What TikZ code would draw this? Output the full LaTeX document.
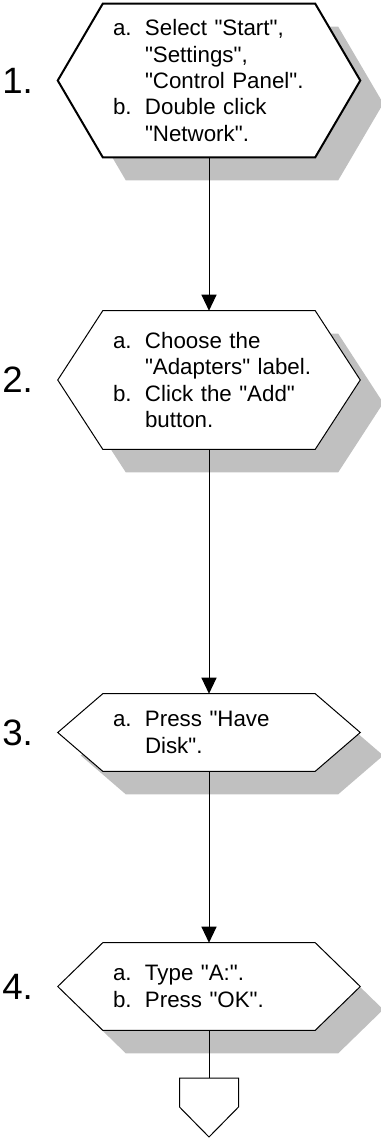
\documentclass[tikz,border=0pt]{standalone}
\usepackage{fontspec}
\newfontfamily\stepfont{Liberation Sans}
\usetikzlibrary{arrows.meta,backgrounds,shadows}
\definecolor{shadowgray}{RGB}{192,192,192}
\newcommand{\itm}[2]{\makebox[24pt][l]{#1}\mbox{#2}}
\newcommand{\hexpath}[1]{(#1.north west) -- (#1.north east) -- ([xshift=33.75pt]#1.east) -- (#1.south east) -- (#1.south west) -- ([xshift=-33.75pt]#1.west) -- cycle}
\tikzset{
  stepbox/.style={rectangle,minimum width=159pt,text width=144pt,inner xsep=7.5pt,inner ysep=0pt,align=left,font=\stepfont\fontsize{16.75}{19.75}\selectfont},
  hexline/.style={draw=black,fill=white,line width=0.75pt,drop shadow={shadow xshift=17.25pt,shadow yshift=-17.25pt,fill=shadowgray,opacity=1}},
  steplabel/.style={anchor=west,inner sep=0pt,font=\stepfont\fontsize{27.5}{30}\selectfont},
  flow/.style={line width=0.75pt,-{Triangle[length=12pt,width=11.25pt]}}
}
\begin{document}
\begin{tikzpicture}[x=0.75pt,y=-0.75pt]
\useasboundingbox (0,0) rectangle (380,1138);
% steps
\node[stepbox,minimum height=114.75pt] (s1) at (209,80.5) {\itm{a.}{Select "Start",}\\\itm{}{"Settings",}\\\itm{}{"Control Panel".}\\\itm{b.}{Double click}\\\itm{}{"Network".}};
\node[stepbox,minimum height=103.5pt] (s2) at (209,380) {\itm{a.}{Choose the}\\\itm{}{"Adapters" label.}\\\itm{b.}{Click the "Add"}\\\itm{}{button.}};
\node[stepbox,minimum height=57.75pt] (s3) at (209,732.5) {\itm{a.}{Press "Have}\\\itm{}{Disk".}};
\node[stepbox,minimum height=65.25pt] (s4) at (209,986.5) {\itm{a.}{Type "A:".}\\\itm{b.}{Press "OK".}};
% numbers
\node[steplabel] (n1) at (2,80.5) {1.};
\node[steplabel] (n2) at (2,380) {2.};
\node[steplabel] (n3) at (2,732.5) {3.};
\node[steplabel] (n4) at (2,986.5) {4.};
% hexagons with shadows
\begin{scope}[on background layer]
\draw[hexline,line width=1.5pt] \hexpath{s1};
\draw[hexline] \hexpath{s2};
\draw[hexline] \hexpath{s3};
\draw[hexline] \hexpath{s4};
\end{scope}
% flow
\draw[flow] (s1.south)--(s2.north);
\draw[flow] (s2.south)--(s3.north);
\draw[flow] (s3.south)--(s4.north);
% off-page connector
\coordinate (off) at (209,1078);
\draw[line width=0.75pt] (s4.south)--(off);
\draw[line width=0.75pt] (off) -- ++(-29.5,0) -- ++(0,29) -- ++(29.5,30) -- ++(29.5,-30) -- ++(0,-29) -- cycle;
\end{tikzpicture}
\end{document}
